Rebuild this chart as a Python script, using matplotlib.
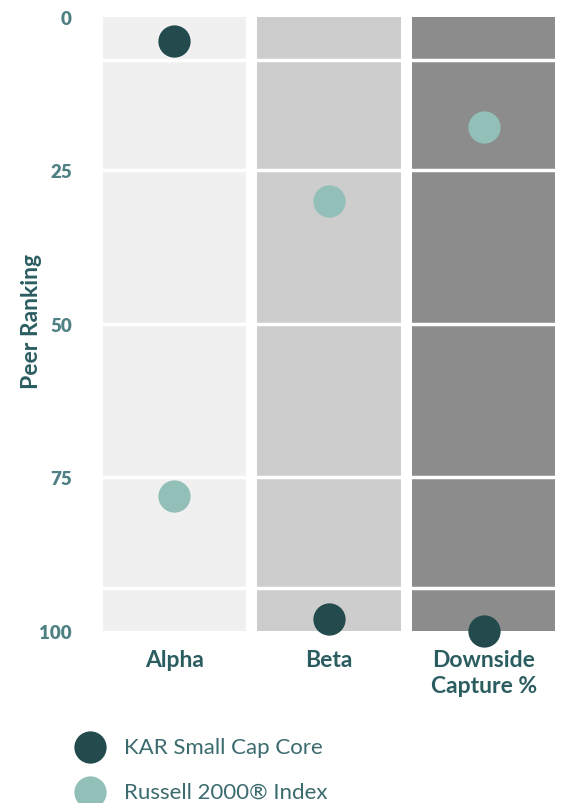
import matplotlib
matplotlib.use("Agg")
import matplotlib.pyplot as plt
import numpy as np

categories = ["Alpha", "Beta", "Downside\nCapture %"]
kar_values = [4, 98, 100]
russell_values = [78, 30, 18]
series_names = ["KAR Small Cap Core", "Russell 2000\u00ae Index"]
y_ticks = [0, 25, 50, 75, 100]
band_lines = [7, 25, 50, 75, 93]

col_colors = ["#f0f0f0", "#cdcdcd", "#8c8c8c"]
kar_color = "#234a4c"
rus_color = "#93bfb9"
tick_color = "#4f8083"
label_color = "#2b5d60"

plt.rcParams['font.family'] = ['Lato', 'DejaVu Sans']

fig = plt.figure(figsize=(5.64, 8.04), dpi=100)
ax = fig.add_axes([101/564, 1-632/804, (557-101)/564, (632-17.7)/804])

x = np.arange(len(categories))
ax.bar(x, [100]*len(categories), width=0.93, bottom=0, color=col_colors, zorder=0)
for yl in band_lines:
    ax.axhline(yl, color="white", lw=2.5, zorder=1)

ax.scatter(x, kar_values, s=540, color=kar_color, zorder=3, clip_on=False, linewidths=0, label=series_names[0])
ax.scatter(x, russell_values, s=540, color=rus_color, zorder=3, clip_on=False, linewidths=0, label=series_names[1])

ax.set_xlim(-0.475, 2.475)
ax.set_ylim(100, 0)
ax.set_yticks(y_ticks)
ax.set_yticklabels([str(t) for t in y_ticks], fontsize=13.5, fontweight='heavy', color=tick_color)
ax.set_xticks(x)
ax.set_xticklabels(categories, fontsize=16.5, fontweight='bold', color=label_color, linespacing=1.3, va='top')
ax.tick_params(axis='y', length=0, pad=21)
ax.tick_params(axis='x', length=0, pad=13)
for s in ax.spines.values():
    s.set_visible(False)
ax.set_ylabel("Peer Ranking", fontsize=16.5, fontweight='bold', color=label_color)
ax.yaxis.set_label_coords(-0.13, 0.505)

leg = fig.legend(loc='upper left', bbox_to_anchor=(72/564, 1-738/804), frameon=False,
                 fontsize=16, labelspacing=1.1, handlelength=1.6, handletextpad=0.73,
                 markerscale=1.0, borderaxespad=0, borderpad=0)
for t in leg.get_texts():
    t.set_color("#3b6b6e")

fig.savefig("out.png", dpi=100)
